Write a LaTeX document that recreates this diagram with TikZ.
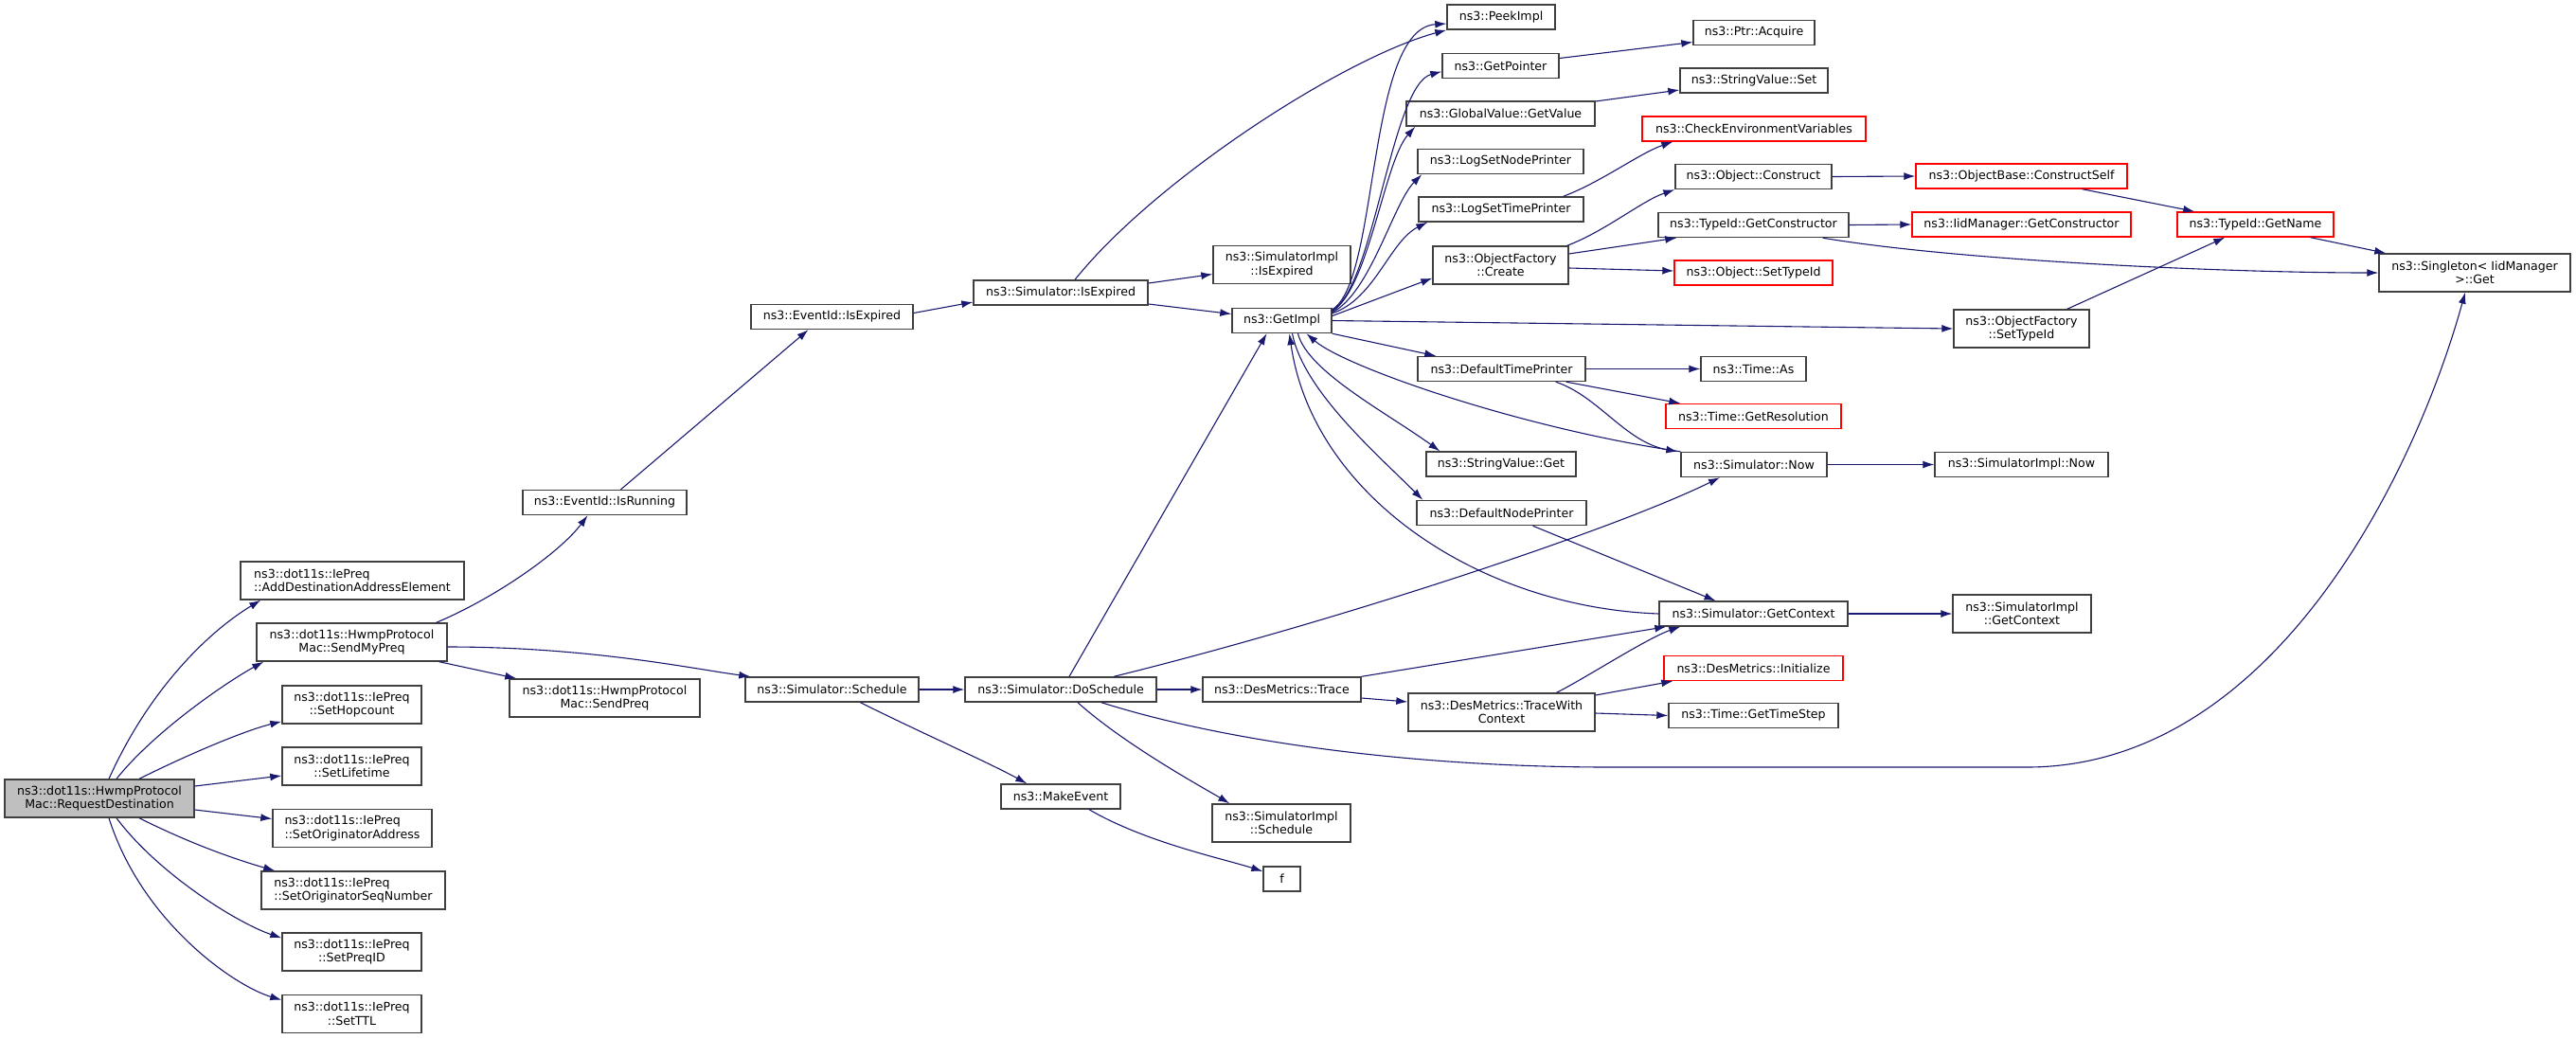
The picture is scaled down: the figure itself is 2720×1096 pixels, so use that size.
\documentclass[tikz,border=0pt]{standalone}
\usepackage{fontspec}
\newfontfamily\dejavu{DejaVu Sans}
\usepackage{tikz}
\usetikzlibrary{arrows.meta}
\definecolor{edgeblue}{HTML}{191970}
\definecolor{boxgrey}{HTML}{404040}
\definecolor{fillgrey}{HTML}{BFBFBF}
\definecolor{boxred}{HTML}{FF0000}

\begin{document}
\begin{tikzpicture}[x = 1pt, y = -1pt,
    fn/.style = {draw = boxgrey, line width = 1.4pt, fill = white, inner sep = 0pt, minimum height = 26pt, align = center, font = \dejavu\fontsize{12.6}{14.5}\selectfont},
    two/.style = {minimum height = 40pt},
    lalign/.style = {align = left},
    hot/.style = {draw = boxred},
    self/.style = {fill = fillgrey},
    call/.style = {edgeblue, line width = 1.1pt, -{Latex[length = 12pt, width = 8pt]}}]
    \useasboundingbox (0, 0) rectangle (2720, 1096);
    \node [fn, two, self, minimum width = 200pt] (rd) at (105, 843) {ns3::dot11s::HwmpProtocol\\Mac::RequestDestination};
    \node [fn, two, lalign, minimum width = 236pt] (adda) at (372, 613) {ns3::dot11s::IePreq\\::AddDestinationAddressElement};
    \node [fn, two, minimum width = 201pt] (smp) at (371.5, 678) {ns3::dot11s::HwmpProtocol\\Mac::SendMyPreq};
    \node [fn, two, minimum width = 147pt] (shc) at (371.5, 744) {ns3::dot11s::IePreq\\::SetHopcount};
    \node [fn, two, minimum width = 147pt] (slt) at (371.5, 809) {ns3::dot11s::IePreq\\::SetLifetime};
    \node [fn, two, lalign, minimum width = 168pt] (soa) at (372, 874.5) {ns3::dot11s::IePreq\\::SetOriginatorAddress};
    \node [fn, two, lalign, minimum width = 194pt] (sos) at (373, 940) {ns3::dot11s::IePreq\\::SetOriginatorSeqNumber};
    \node [fn, two, minimum width = 147pt] (spid) at (371.5, 1005) {ns3::dot11s::IePreq\\::SetPreqID};
    \node [fn, two, minimum width = 147pt] (sttl) at (371.5, 1070.5) {ns3::dot11s::IePreq\\::SetTTL};
    \node [fn, minimum width = 173pt] (isr) at (638.5, 530.5) {ns3::EventId::IsRunning};
    \node [fn, two, minimum width = 201pt] (spq) at (638.5, 737) {ns3::dot11s::HwmpProtocol\\Mac::SendPreq};
    \node [fn, minimum width = 171pt] (eie) at (878.5, 334.5) {ns3::EventId::IsExpired};
    \node [fn, minimum width = 183pt] (sch) at (878.5, 728) {ns3::Simulator::Schedule};
    \node [fn, minimum width = 184pt] (sie) at (1120, 309) {ns3::Simulator::IsExpired};
    \node [fn, minimum width = 202pt] (dsch) at (1120, 728) {ns3::Simulator::DoSchedule};
    \node [fn, minimum width = 126pt] (mke) at (1120, 841) {ns3::MakeEvent};
    \node [fn, two, minimum width = 145pt] (siie) at (1353.5, 279.5) {ns3::SimulatorImpl\\::IsExpired};
    \node [fn, minimum width = 105pt] (gi) at (1353.5, 338.5) {ns3::GetImpl};
    \node [fn, minimum width = 167pt] (dmt) at (1353.5, 728) {ns3::DesMetrics::Trace};
    \node [fn, two, minimum width = 146pt] (sisch) at (1353, 869) {ns3::SimulatorImpl\\::Schedule};
    \node [fn, minimum width = 39pt] (f) at (1353.5, 928) {f};
    \node [fn, minimum width = 114pt] (pki) at (1585, 18) {ns3::PeekImpl};
    \node [fn, minimum width = 123pt] (gp) at (1584.5, 69.5) {ns3::GetPointer};
    \node [fn, minimum width = 199pt] (gvgv) at (1584.5, 120) {ns3::GlobalValue::GetValue};
    \node [fn, minimum width = 175pt] (lsnp) at (1584.5, 170.5) {ns3::LogSetNodePrinter};
    \node [fn, minimum width = 174pt] (lstp) at (1585, 221) {ns3::LogSetTimePrinter};
    \node [fn, two, minimum width = 143pt] (ofc) at (1584.5, 280) {ns3::ObjectFactory\\::Create};
    \node [fn, minimum width = 177pt] (dtp) at (1585.5, 389.5) {ns3::DefaultTimePrinter};
    \node [fn, minimum width = 158pt] (svg) at (1585, 490) {ns3::StringValue::Get};
    \node [fn, minimum width = 179pt] (dnp) at (1585.5, 541.5) {ns3::DefaultNodePrinter};
    \node [fn, two, minimum width = 197pt] (twc) at (1585.5, 752) {ns3::DesMetrics::TraceWith\\Context};
    \node [fn, minimum width = 128pt] (acq) at (1852, 34.5) {ns3::Ptr::Acquire};
    \node [fn, minimum width = 156pt] (svs) at (1852, 85) {ns3::StringValue::Set};
    \node [fn, hot, minimum width = 236pt] (cev) at (1852, 136) {ns3::CheckEnvironmentVariables};
    \node [fn, minimum width = 165pt] (oc) at (1851.5, 186.5) {ns3::Object::Construct};
    \node [fn, minimum width = 201pt] (tgc) at (1851.5, 237.5) {ns3::TypeId::GetConstructor};
    \node [fn, hot, minimum width = 167pt] (ost) at (1851.5, 288) {ns3::Object::SetTypeId};
    \node [fn, minimum width = 111pt] (tas) at (1851.5, 389.5) {ns3::Time::As};
    \node [fn, hot, minimum width = 185pt] (tgr) at (1851.5, 439.5) {ns3::Time::GetResolution};
    \node [fn, minimum width = 154pt] (snow) at (1852, 490.5) {ns3::Simulator::Now};
    \node [fn, minimum width = 199pt] (sgc) at (1851.5, 648) {ns3::Simulator::GetContext};
    \node [fn, hot, minimum width = 189pt] (dmi) at (1851.5, 705.5) {ns3::DesMetrics::Initialize};
    \node [fn, minimum width = 179pt] (tgts) at (1851.5, 755.5) {ns3::Time::GetTimeStep};
    \node [fn, hot, minimum width = 223pt] (cself) at (2134.5, 186) {ns3::ObjectBase::ConstructSelf};
    \node [fn, hot, minimum width = 231pt] (iidgc) at (2134.5, 237) {ns3::IidManager::GetConstructor};
    \node [fn, two, minimum width = 143pt] (ofst) at (2134.5, 347) {ns3::ObjectFactory\\::SetTypeId};
    \node [fn, minimum width = 183pt] (sinow) at (2134.5, 490.5) {ns3::SimulatorImpl::Now};
    \node [fn, two, minimum width = 146pt] (sigc) at (2135, 648) {ns3::SimulatorImpl\\::GetContext};
    \node [fn, hot, minimum width = 165pt] (tgn) at (2381.5, 237) {ns3::TypeId::GetName};
    \node [fn, two, minimum width = 202pt] (sing) at (2613, 288) {ns3::Singleton< IidManager\\>::Get};
    \draw [call] ([xshift = 10pt] rd.north) .. controls +(45, -100) and +(-50, 30) .. ([xshift = 22pt] adda.south west);
    \draw [call] ([xshift = 18pt] rd.north) .. controls +(40, -50) and +(-40, 22) .. ([xshift = 8pt] smp.south west);
    \draw [call] ([xshift = 42pt] rd.north) .. controls +(50, -25) and +(-40, 10) .. ([yshift = 3pt] shc.south west);
    \draw [call] ([yshift = 13pt] rd.east) -- ([yshift = -10pt] slt.west);
    \draw [call] ([yshift = -12pt] rd.east) -- ([yshift = 10pt] soa.west);
    \draw [call] ([xshift = 42pt] rd.south) .. controls +(60, 30) and +(-35, -10) .. ([xshift = 15pt] sos.north west);
    \draw [call] ([xshift = 18pt] rd.south) .. controls +(45, 60) and +(-45, -15) .. ([yshift = -6pt] spid.north west);
    \draw [call] ([xshift = 10pt] rd.south) .. controls +(35, 110) and +(-50, -15) .. ([yshift = -6pt] sttl.north west);
    \draw [call] ([xshift = -12pt] smp.north east) .. controls +(60, -25) and +(-30, 40) .. ([xshift = -18pt] isr.south);
    \draw [call] ([xshift = -9pt] smp.south east) -- ([xshift = 8pt] spq.north west);
    \draw [call] ([yshift = -5pt] smp.east) .. controls +(150, 0) and +(-60, -8) .. ([xshift = 6pt] sch.north west);
    \draw [call] ([xshift = 17pt] isr.north) -- ([xshift = -25pt] eie.south);
    \draw [call] ([yshift = 4pt] eie.east) -- ([yshift = -10pt] sie.west);
    \draw [call] ([yshift = 10pt] sie.east) -- ([yshift = -10pt] siie.west);
    \draw [call] ([yshift = -12pt] sie.east) -- ([yshift = 7pt] gi.west);
    \draw [call] ([xshift = 15pt] sie.north) .. controls +(85, -106) and +(-108, 29) .. (pki.south west);
    \draw [call] ([yshift = -2pt] gi.north east) .. controls +(50, -30) and +(-85, 5) .. ([yshift = -7pt] pki.west);
    \draw [call] ([yshift = -3pt] gi.north east) .. controls +(44, -24) and +(-53, 14) .. ([yshift = -6pt] gp.west);
    \draw [call] ([yshift = -4pt] gi.north east) .. controls +(39, -25) and +(-33, 37) .. ([xshift = 10pt] gvgv.south west);
    \draw [call] ([yshift = -5pt] gi.north east) .. controls +(40, -20) and +(-30, 30) .. ([xshift = 5pt] lsnp.south west);
    \draw [call] ([yshift = -6pt] gi.north east) .. controls +(45, -15) and +(-40, 20) .. ([xshift = 10pt] lstp.south west);
    \draw [call] ([yshift = 5pt] gi.east) -- ([yshift = 7pt] ofc.south west);
    \draw [call] (gi.east) -- (ofst.west);
    \draw [call] (gi.south east) -- ([xshift = 20pt] dtp.north west);
    \draw [call] ([xshift = 17pt] gi.south) .. controls +(10, 40) and +(-55, -40) .. ([xshift = 15pt] svg.north west);
    \draw [call] ([xshift = 11pt] gi.south) .. controls +(12, 60) and +(-50, -50) .. ([xshift = 7pt] dnp.north west);
    \draw [call] (sgc.west) .. controls +(-192, -7) and +(24, 169) .. ([xshift = 8pt] gi.south);
    \draw [call] (snow.north west) .. controls +(-170, -25) and +(40, 35) .. ([xshift = 26pt] gi.south);
    \draw [call] ([xshift = 9pt] dsch.north) -- ([xshift = -16pt] gi.south);
    \draw [call] (dtp.east) -- (tas.west);
    \draw [call] ([xshift = -21pt] dtp.south east) -- ([xshift = 16pt] tgr.north west);
    \draw [call] ([xshift = -32pt] dtp.south east) .. controls +(45, 15) and +(-55, -10) .. ([xshift = -3pt] snow.north west);
    \draw [call] (snow.east) -- (sinow.west);
    \draw [call] ([xshift = 33pt] dnp.south) -- ([xshift = -40pt] sgc.north);
    \draw [call] (sgc.east) -- (sigc.west);
    \draw [call] (sch.east) -- (dsch.west);
    \draw [call] ([xshift = 30pt] sch.south) .. controls +(60, 30) and +(-40, -22) .. ([xshift = 28pt] mke.north west);
    \draw [call] ([xshift = 30pt] mke.south) .. controls +(60, 35) and +(-40, -13) .. ([yshift = 8pt] f.west);
    \draw [call] (dsch.east) -- (dmt.west);
    \draw [call] ([xshift = 56pt] dsch.north) .. controls +(224, -55) and +(-116, 57) .. ([xshift = -36pt] snow.south);
    \draw [call] ([xshift = 18pt] dsch.south) .. controls +(50, 45) and +(-25, -15) .. ([xshift = 19pt] sisch.north west);
    \draw [call] ([xshift = 43pt] dsch.south) .. controls (1300, 785) and (1500, 810) .. (1700, 810) -- (2140, 810) .. controls (2400, 810) and (2550, 500) .. ([xshift = -10pt] sing.south);
    \draw [call] (dmt.north east) -- ([xshift = 8pt] sgc.south west);
    \draw [call] ([yshift = -9pt] dmt.east) -- ([yshift = 11pt] twc.west);
    \draw [call] ([xshift = 58pt] twc.north) .. controls +(30, -15) and +(-35, 12) .. ([xshift = 23pt] sgc.south west);
    \draw [call] ([yshift = 18pt] twc.east) -- ([xshift = 10pt] dmi.south west);
    \draw [call] ([yshift = -1pt] twc.east) -- (tgts.west);
    \draw [call] ([yshift = 8pt] gp.east) -- ([yshift = -10pt] acq.west);
    \draw [call] ([yshift = 13pt] gvgv.east) -- ([yshift = -10pt] svs.west);
    \draw [call] ([xshift = -22pt] lstp.north east) .. controls +(40, -15) and +(-35, 12) .. ([xshift = 33pt] cev.south west);
    \draw [call] ([xshift = -2pt] ofc.north east) .. controls +(40, -15) and +(-35, 12) .. (oc.south west);
    \draw [call] ([yshift = 12pt] ofc.east) -- ([xshift = 20pt] tgc.south west);
    \draw [call] ([yshift = -3pt] ofc.east) -- ([yshift = 2pt] ost.west);
    \draw [call] (oc.east) -- (cself.west);
    \draw [call] (tgc.east) -- (iidgc.west);
    \draw [call] ([xshift = -28pt] tgc.south east) .. controls +(150, 25) and +(-150, 0) .. (sing.west);
    \draw [call] ([xshift = -48pt] cself.south east) -- ([xshift = 19pt] tgn.north west);
    \draw [call] ([xshift = -25pt] tgn.south east) -- ([xshift = 8pt] sing.north west);
    \draw [call] ([xshift = -24pt] ofst.north east) -- ([xshift = 51pt] tgn.south west);
\end{tikzpicture}
\end{document}
